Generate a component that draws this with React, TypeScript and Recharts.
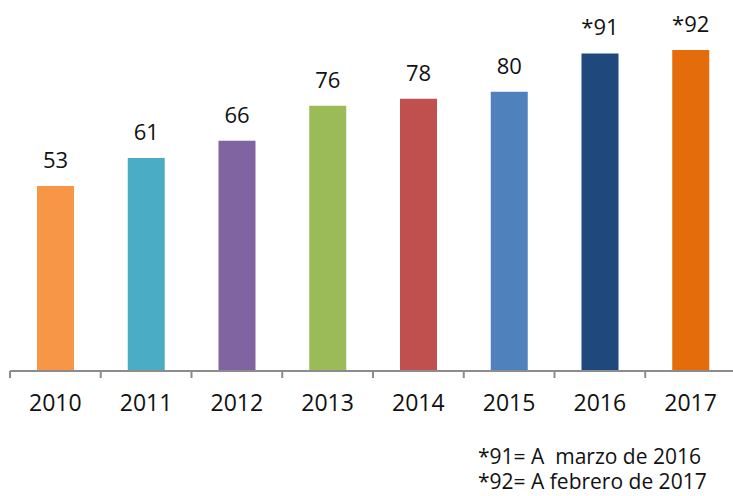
import { BarChart, Bar, XAxis, YAxis, Cell, LabelList } from 'recharts';

const YEARS = ['2010', '2011', '2012', '2013', '2014', '2015', '2016', '2017'];
const VALUES = [53, 61, 66, 76, 78, 80, 91, 92];
const LABELS = ['53', '61', '66', '76', '78', '80', '*91', '*92'];
const COLORS = ['#F79646', '#4BACC6', '#8064A2', '#9BBB59', '#C0504D', '#4F81BD', '#1F497D', '#E46C0A'];
const NOTES = ['*91= A  marzo de 2016', '*92= A febrero de 2017'];

const W = 733;
const H = 496;
const MARGIN = { top: 22, right: -3, left: 10, bottom: 85 };
const BAND = (W - MARGIN.left - MARGIN.right) / YEARS.length;
const FONT = '"Open Sans", "Noto Sans", sans-serif';
const AXIS = '#8c8c8c';

const rows = YEARS.map((year, i) => ({ year, value: VALUES[i], label: LABELS[i] }));

function YearTick({ x, y, payload }: { x?: number; y?: number; payload?: { value: string } }) {
  const cx = x ?? 0;
  const cy = y ?? 0;
  return (
    <g>
      <line x1={cx - BAND / 2} x2={cx - BAND / 2} y1={cy} y2={cy + 7} stroke={AXIS} strokeWidth={2} />
      <text x={cx} y={cy + 40} textAnchor="middle" fill="#111" fontSize={23} fontFamily={FONT}>
        {payload?.value}
      </text>
    </g>
  );
}

export default function App() {
  return (
    <div style={{ position: 'absolute', left: 0, top: 0, width: W, height: H, background: '#fff' }}>
      <BarChart width={W} height={H} data={rows} margin={MARGIN} barCategoryGap={0}>
        <XAxis
          dataKey="year"
          axisLine={{ stroke: AXIS, strokeWidth: 2 }}
          tickLine={false}
          tickSize={0}
          tickMargin={0}
          height={40}
          interval={0}
          tick={<YearTick />}
        />
        <YAxis hide domain={[0, 100]} />
        <Bar dataKey="value" barSize={37} isAnimationActive={false}>
          {rows.map((_, i) => (
            <Cell key={i} fill={COLORS[i]} />
          ))}
          <LabelList
            dataKey="label"
            position="top"
            offset={18}
            fill="#111"
            fontSize={22}
            fontFamily={FONT}
          />
        </Bar>
      </BarChart>
      {/* footnote */}
      <div
        style={{
          position: 'absolute',
          left: 478,
          top: 444,
          fontFamily: FONT,
          fontSize: 21,
          lineHeight: '25px',
          color: '#111',
          whiteSpace: 'pre',
        }}
      >
        {NOTES.join('\n')}
      </div>
    </div>
  );
}
